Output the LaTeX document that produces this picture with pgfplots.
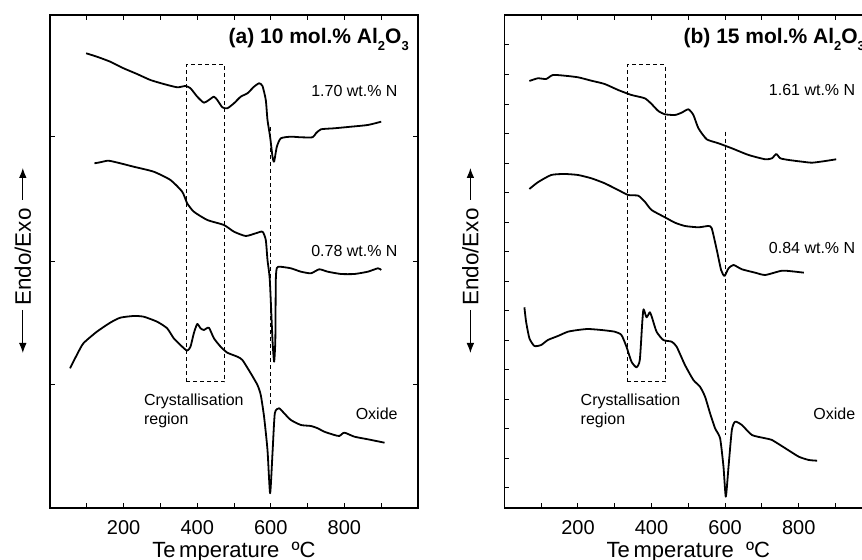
\documentclass[border=0pt]{standalone}
\usepackage{fontspec}
\setmainfont{Liberation Sans}
\usepackage{pgfplots}
\pgfplotsset{compat=1.18}
\usetikzlibrary{arrows.meta}

% x: temperature, y: signal (arbitrary, offset per curve)
\pgfplotsset{
  dtapanel/.style={
    scale only axis, width=184pt, height=246.5pt,
    xmin=0, xmax=1000, ymin=0, ymax=493,
    xtick={100,200,...,900},
    xticklabels={,200,,400,,600,,800,},
    yticklabels={},
    tick align=inside, major tick length=2.5pt,
    tick style={black, line width=0.5pt},
    axis line style={line width=0.6pt},
    ticklabel style={font=\fontsize{10}{12}\selectfont},
    xticklabel style={yshift=-2.5pt},
    xlabel={Te\,mperature\ \ ºC},
    xlabel style={at={(axis description cs:0.5,0)}, anchor=base, yshift=-24.8pt,
      font=\fontsize{11}{13}\selectfont},
    clip=false,
  },
  curve/.style={black, line width=0.9pt, mark=none, smooth, tension=0.35, line join=round},
}
\tikzset{
  box/.style={black, line width=0.5pt, dash pattern=on 2pt off 1.5pt},
  lbl/.style={anchor=east, inner sep=0, font=\fontsize{8}{9.7}\selectfont},
  ttl/.style={anchor=base east, inner sep=0, font=\bfseries\fontsize{10.5}{12}\selectfont},
}
\newcommand{\sub}[1]{\raisebox{-3.6pt}{\fontsize{6.5}{7}\selectfont #1}}

\begin{document}
\begin{tikzpicture}
\path[use as bounding box] (0,0) rectangle (431pt,280pt);

% ---- (a) 10 mol.% Al2O3
\begin{axis}[dtapanel, at={(25pt,26pt)}, anchor=south west,
  ytick={123.7,246.3,371.3}]
  % 1.70 wt.% N
  \addplot[curve] coordinates {
    (98.2,454.7) (127.4,451.3) (163.6,446.3) (199.9,439.7) (236.5,434) (272.7,428)
    (309,424) (345.5,420.7) (368.2,422) (381.8,419.7) (400.1,411.3) (418.1,405.3)
    (431.7,408) (445.4,411.3) (454.6,408) (468.3,400.7) (481.9,399.7) (499.9,404.7)
    (518.2,411.3) (536.5,414.7) (554.4,421.3) (568.1,424.7) (577.4,422) (586.4,408)
    (591,388) (598.1,371.3) (604.6,351.3) (609,346.3) (616.4,361.3) (627.3,369.7)
    (654.5,371.3) (681.8,370.7) (713.7,370.7) (722.7,374.7) (736.4,378.7)
    (772.6,379.7) (818.2,381.3) (863.7,383) (900,386.3)};
  % 0.78 wt.% N
  \addplot[curve] coordinates {
    (120.8,344.7) (136.4,345.7) (159,347.3) (190.9,344.7) (227.2,341.3) (281.7,336.3)
    (327.3,328) (359.2,316.3) (372.8,304.7) (390.8,296.3) (427.4,288) (472.6,283)
    (499.9,276.3) (531.8,272) (559.1,274.7) (577.4,276.3) (586.4,268) (591,248)
    (597.3,228) (604.6,168) (609,146.3) (612.3,168) (613.6,228) (616.4,240)
    (624.6,241.3) (654.5,239.7) (681.8,236.3) (709.1,234.7) (731.7,238.7)
    (754.6,236.3) (790.9,234) (827.2,234) (863.7,236.3) (891,239.7) (900,238)};
  % Oxide
  \addplot[curve] coordinates {
    (54.5,139.7) (72.8,153) (90.8,164.7) (127.4,176.3) (163.6,185.3) (190.9,190.3)
    (227.2,192) (254.5,191.3) (291,186.3) (318.3,179.7) (336.3,169.7) (359.2,161.3)
    (372.8,157.3) (381.8,161.3) (390.8,174.7) (400.1,184) (409.1,179.7) (418.1,178)
    (431.7,180.3) (445.4,169.7) (463.6,161.3) (481.9,155.3) (509.2,151.3) (522.8,148)
    (545.5,134.7) (563.7,123) (572.7,113) (581.7,91.3) (591,58) (598.1,14.7)
    (604.6,54.7) (610.9,94.7) (622.6,99.7) (636.3,94.7) (654.5,88) (681.8,83)
    (709.1,82) (727.4,79.7) (745.4,76.3) (772.6,73) (786.3,72) (799.9,75.3)
    (827.2,71.3) (863.7,68.7) (909,65.3)};
  \draw[box] (axis cs:370,126.3) rectangle (axis cs:475.4,443);
  \draw[box] (axis cs:600,381) -- (axis cs:600,101.3);
  \node[ttl] at (axis cs:976,464.7) {(a) 10 mol.\% Al\sub{2}O\sub{3}};
  \node[lbl] at (axis cs:945.5,417.3) {1.70 wt.\% N};
  \node[lbl] at (axis cs:945.5,257.3) {0.78 wt.\% N};
  \node[lbl] at (axis cs:945.5,94.7) {Oxide};
  \node[lbl, anchor=north west, align=left] at (axis cs:254.5,114.7) {Crystallisation\\region};
\end{axis}

% ---- (b) 15 mol.% Al2O3
\begin{axis}[dtapanel, at={(252.17pt,26pt)}, anchor=south west,
  ytick={20,49.5,79.1,108.6,138.1,167.7,197.2,226.7,256.3,285.8,315.3,344.8,374.4,403.9,433.4,463}]
  % 1.61 wt.% N
  \addplot[curve] coordinates {
    (68.1,427) (91,429.7) (113.6,429) (131.9,433) (163.6,432.3) (200.1,430.7)
    (236.4,427.3) (272.6,424) (309.2,418) (345.5,413) (381.7,409.7) (400,404)
    (418.3,397) (436.3,393.7) (463.6,393) (481.8,395.3) (500.1,398.7) (513.7,393)
    (527.4,379.7) (550,368.7) (581.9,364.7) (618.2,359.7) (663.7,353) (709,348.7)
    (727.3,349.7) (739,354) (749.9,349.7) (772.8,348) (809.1,346.3) (836.4,345.3)
    (872.6,347) (901.8,348.7)};
  % 0.84 wt.% N
  \addplot[curve] coordinates {
    (68.1,319) (91,325.7) (127.3,333) (163.6,334) (200.1,333) (236.4,329.7)
    (272.6,324.7) (309.2,318) (336.5,313) (363.7,312.3) (381.7,306.3) (400,298)
    (436.3,290.7) (463.6,285.3) (490.8,282) (527.4,280.7) (554.6,282) (563.6,279.7)
    (577.3,258) (589,238) (598.3,232) (609.2,239.7) (622.8,243) (645.5,238.7)
    (681.7,235.3) (709,233) (754.6,237.3) (790.8,236.3) (813.7,235.3)};
  % Oxide
  \addplot[curve] coordinates {
    (54.5,200.7) (59.1,186.3) (68.1,169.7) (81.7,162) (100,163) (118.3,168)
    (145.6,172) (172.8,176.3) (200.1,178) (227.4,179) (263.6,178) (299.9,176.3)
    (318.2,173) (331.8,161.3) (345.5,146.3) (359.1,140.7) (368.1,148) (374.6,184.7)
    (378.2,198.7) (386.4,190.7) (395.4,195.7) (401.9,189.7) (413.6,176.3) (431.9,168)
    (454.5,166.3) (468.2,161.3) (490.8,143) (513.7,128) (531.7,121.3) (545.4,111.3)
    (559,94.7) (572.6,79.7) (586.3,69.7) (595.5,41.3) (601.8,11.3) (609.2,41.3)
    (618.2,78) (627.2,86.3) (645.5,83) (672.7,73) (709,69.7) (727.3,68)
    (763.6,59.7) (800.1,51.3) (827.4,48) (850,47.3)};
  \draw[box] (axis cs:333.7,126.3) rectangle (axis cs:439,443);
  \draw[box] (axis cs:600,376.3) -- (axis cs:600,73);
  \node[ttl] at (axis cs:981,464.7) {(b) 15 mol.\% Al\sub{2}O\sub{3}};
  \node[lbl] at (axis cs:954.5,418) {1.61 wt.\% N};
  \node[lbl] at (axis cs:954.5,259.7) {0.84 wt.\% N};
  \node[lbl] at (axis cs:954.5,94.7) {Oxide};
  \node[lbl, anchor=north west, align=left] at (axis cs:206.4,114.7) {Crystallisation\\region};
\end{axis}

% Endo/Exo labels with arrows
\foreach \xx/\yb in {11.4pt/103.5pt, 235.2pt/103.5pt} {
  \node[rotate=90, inner sep=0, font=\fontsize{11.2}{13}\selectfont] at (\xx,151.5pt) {Endo/Exo};
  \draw[line width=0.5pt, -{Latex[length=5pt,width=3.8pt]}] (\xx,180pt) -- (\xx,196pt);
  \draw[line width=0.5pt, -{Latex[length=5pt,width=3.8pt]}] (\xx,125pt) -- (\xx,\yb);
}
\end{tikzpicture}
\end{document}
